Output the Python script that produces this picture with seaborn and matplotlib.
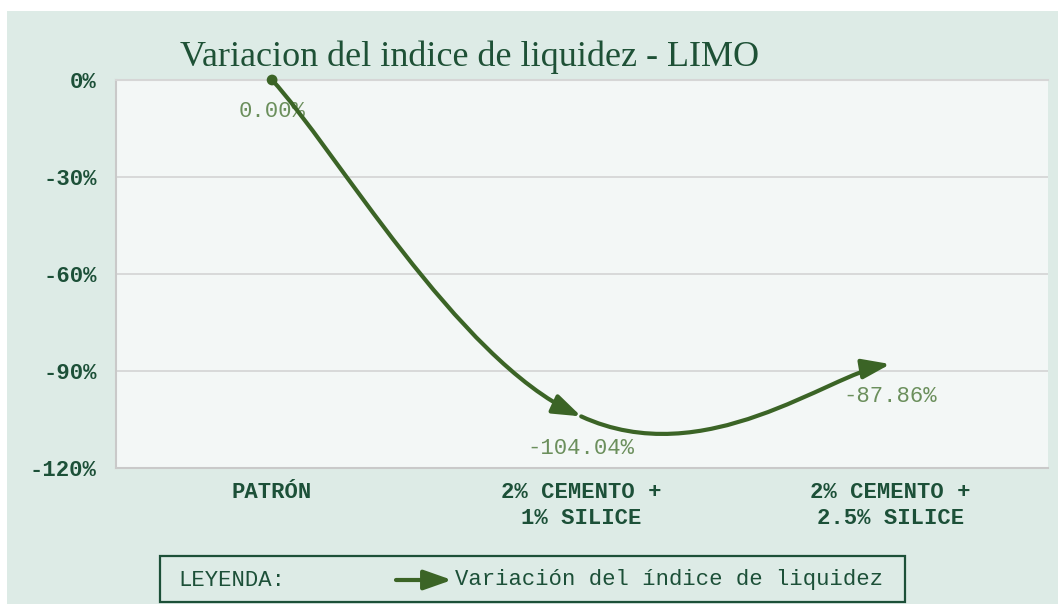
import numpy as np
import matplotlib
matplotlib.use("Agg")
import matplotlib.pyplot as plt
import seaborn as sns
from matplotlib.path import Path
from matplotlib.patches import FancyArrowPatch, Rectangle, ArrowStyle
from matplotlib.ticker import FuncFormatter

# datos
categorias = ["PATRÓN", "2% CEMENTO +\n1% SILICE", "2% CEMENTO +\n2.5% SILICE"]
variacion = [0.00, -104.04, -87.86]
etiquetas = ["0.00%", "-104.04%", "-87.86%"]
yticks = [0, -30, -60, -90, -120]

titulo = "Variacion del indice de liquidez - LIMO"
leyenda = "Variación del índice de liquidez"

# colores
verde = "#3b6426"
verde_osc = "#1c5038"
verde_lbl = "#6b8f5c"
fondo = "#ddebe6"
fondo_ax = "#f3f7f6"
gris = "#d6d6d6"

sns.set_theme(style="white")
plt.rcParams["font.family"] = ["Liberation Mono", "DejaVu Sans Mono"]
plt.rcParams["axes.unicode_minus"] = False

W, H = 1058, 604
fig = plt.figure(figsize=(W / 100, H / 100), dpi=100)
fig.patch.set_facecolor("white")
fig.patches.append(Rectangle((7 / W, 0), 1, 593 / H, transform=fig.transFigure,
                             facecolor=fondo, edgecolor="none", zorder=-10))

ax = fig.add_axes([116 / W, 1 - 468 / H, (1048 - 116) / W, (468 - 80) / H])
ax.set_facecolor(fondo_ax)

x = np.arange(len(categorias))
y = np.array(variacion)

# punto inicial redondo
sns.scatterplot(x=x[:1], y=y[:1], ax=ax, color=verde, s=60, edgecolor="none",
                zorder=5, clip_on=False)

# linea suavizada (tipo excel) con flecha al final de cada tramo
t = 0.2
estilo = ArrowStyle("-|>", head_length=0.85, head_width=0.3)
for i in range(len(x) - 1):
    p0 = np.array([x[i], y[i]])
    p1 = np.array([x[i + 1], y[i + 1]])
    prev = np.array([x[i - 1], y[i - 1]]) if i > 0 else p0
    nxt = np.array([x[i + 2], y[i + 2]]) if i + 2 < len(x) else p1
    c1 = p0 + t * (p1 - prev)
    c2 = p1 - t * (nxt - p0)
    camino = Path([p0, c1, c2, p1], [Path.MOVETO, Path.CURVE4, Path.CURVE4, Path.CURVE4])
    flecha = FancyArrowPatch(path=camino, arrowstyle=estilo, mutation_scale=20,
                             color=verde, lw=3, zorder=4, clip_on=False)
    ax.add_patch(flecha)

# etiquetas de datos
for xi, yi, lbl in zip(x, y, etiquetas):
    ax.annotate(lbl, (xi, yi), xytext=(0, -23), textcoords="offset points",
                ha="center", va="center", color=verde_lbl, fontsize=16)

ax.set_xlim(-0.505, 2.51)
ax.set_ylim(-120, 0)
ax.set_xticks(x, categorias)
ax.set_yticks(yticks)
ax.yaxis.set_major_formatter(FuncFormatter(lambda v, p: f"{v:.0f}%"))
for lab in ax.get_xticklabels():
    lab.set_linespacing(1.3)
ax.tick_params(axis="x", length=0, pad=10, labelsize=16, labelcolor=verde_osc)
ax.tick_params(axis="y", length=0, pad=14, labelsize=16, labelcolor=verde_osc)
for lab in ax.get_xticklabels() + ax.get_yticklabels():
    lab.set_fontweight("bold")

ax.yaxis.grid(True, color=gris, lw=1.3)
ax.set_axisbelow(True)
for lado in ["left", "bottom", "top"]:
    ax.spines[lado].set_color("#c9c9c9")
    ax.spines[lado].set_linewidth(1.5)
ax.spines["right"].set_visible(False)
ax.spines["top"].set_color(gris)

# titulo
fig.text(180 / W, 1 - 66 / H, titulo, family="Liberation Serif", fontsize=26,
         color="#1e5136", va="baseline")

# leyenda dibujada a mano
fig.patches.append(Rectangle((160 / W, 1 - 602 / H), (905 - 160) / W, 46 / H,
                             transform=fig.transFigure, facecolor="none",
                             edgecolor=verde_osc, lw=1.6))
yl = 1 - 580 / H
fig.text(178 / W, yl, "LEYENDA:", fontsize=16, color=verde_osc, va="center")
fig.patches.append(FancyArrowPatch((396 / W, yl), (452 / W, yl), transform=fig.transFigure,
                                   arrowstyle=estilo, mutation_scale=20, color=verde, lw=3,
                                   shrinkA=0, shrinkB=0))
fig.text(455 / W, yl, leyenda, fontsize=16, color=verde_osc, va="center")

fig.savefig("out.png", dpi=100)
